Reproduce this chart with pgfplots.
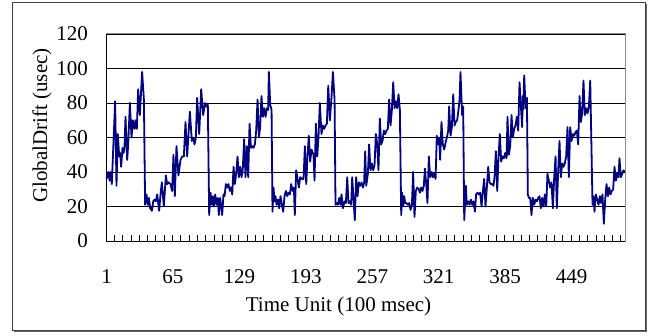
\documentclass[border=0pt]{standalone}
\usepackage{pgfplots}
\pgfplotsset{compat=1.18}
\usepackage{pgfplotstable}
\usepackage{fontspec}
\setmainfont{Liberation Serif}
\definecolor{navyline}{RGB}{0,0,128}
\pgfplotstableread{
x y
1 36
2.9 40
3.9 35
4.8 40
6.1 33
9.3 81
10.6 32
11.9 62
13.2 49
14.2 51
15.1 43
16.4 54
17.4 51
18.3 54
19.3 72
20.9 47
21.9 56
23.5 80
25.1 60
26.4 70
28.0 65
29.0 70
30.2 65
31.5 88
33.1 73
35.3 98
37.0 82
38.2 21
39.5 27
40.8 21
41.8 25
43.1 19
44.7 17.5
46.0 23
47.2 24
48.5 23
49.8 27
51.7 17.5
53.0 27
54.3 34
56.2 20
58.2 38
59.4 33
61.0 34
62.6 33
64.2 29
65.5 50
66.8 26
68.4 55
70.3 38
72.3 47
73.9 49
75.5 49
77.1 69
78.7 49
81.3 75
83.2 58
84.5 60
85.8 56
87.1 60
88.3 83
90.3 62
92.2 88
94.1 73
96.0 80
97.3 78
98.6 79
99.9 15
101.2 28
102.5 21
103.4 26
104.4 20
105.7 27
107.0 21
108.3 25
109.2 15
110.5 25
111.5 20
112.4 15
113.7 27
114.7 26
116.0 33
117.3 31
118.5 33
119.8 29
121.1 31
122.1 27
123.4 43
124.6 33
125.9 39
127.2 49
128.5 37
129.8 43
131.1 37
132.3 42
133.6 59
134.9 37
136.2 55
137.5 37
138.8 68
140.1 54
141.3 55
142.6 54
143.9 56
145.2 64
146.5 82
147.8 60
149.0 66
150.3 84
151.6 72
152.9 77
154.2 72
155.5 77
156.7 76
157.4 98
158.7 79
160.0 76
160.9 17
161.9 31
162.8 23
163.8 26
164.8 21
166.1 24
167.3 19
168.6 26
169.9 21
171.2 17
172.5 26
173.8 29
175.1 26
176.3 28
177.6 27
178.9 33
180.2 29
181.5 31
182.4 15
183.7 41
185.0 36
186.3 31
187.6 37
189.2 36
190.8 36
192.1 55
193.4 33
194.6 49
195.9 61
197.2 46
198.5 53
199.8 51
200.4 50
201.4 35
202.7 68
204.0 49
205.2 60
206.5 80
208.1 62
209.4 67
210.7 65
212.0 67
213.3 68
214.6 90
216.2 70
217.8 84
219.1 98
220.7 82
221.6 21
222.6 22
223.9 21
225.2 25
226.4 21
227.4 27
228.7 19
230.3 23
231.6 22
232.9 37
234.1 22
235.4 23
236.7 21
237.7 37
239.0 24
240.2 12
241.5 37
242.8 26
244.1 34
245.4 32
246.7 34
248.0 31
249.2 34
250.2 52
251.2 32
252.8 39
254.0 56
255.3 41
256.6 45
257.9 41
259.2 44
260.5 62
261.8 56
263.0 41
264.3 71
265.6 56
266.9 58
268.2 64
269.5 62
270.7 64
272.0 65
273.3 82
274.6 67
275.9 76
277.2 92
278.5 77
279.7 81
281.0 77
282.3 85
283.6 76
284.9 15
285.8 28
286.8 20
287.8 26
288.7 22
290.0 22
291.3 21
292.6 22
293.9 18
295.2 21
296.4 40
297.7 14
299.0 29
300.3 31
301.9 30
302.9 28
304.1 31
305.4 29
306.7 32
307.7 42
309.0 33
310.2 22
311.5 49
312.8 37
314.1 40
315.4 37
316.7 39
318.0 36
319.2 61
320.5 56
321.5 60
322.4 47
323.7 69
325.0 56
326.3 53
327.6 57
328.9 60
330.2 64
331.1 78
332.4 61
333.7 66
335.0 85
336.3 67
337.5 69
338.8 70
340.1 76
341.1 82
342.0 98
343.6 73
344.6 78
345.6 12
347.2 32
348.1 21
349.4 23
350.7 21
352.0 24
353.3 21
354.6 23
355.9 17
357.1 27
358.4 28
359.7 27
361.0 28
362.3 20
363.6 29
364.8 36
366.1 20
367.4 31
368.7 43
370.0 34
371.3 33
372.5 33
373.8 32
374.8 37
376.1 52
377.4 29
378.6 48
379.9 62
381.2 46
382.5 49
383.8 48
385.1 51
386.4 48
387.3 72
388.6 50
389.9 55
391.2 73
392.5 60
393.7 65
395.0 67
396.3 72
397.6 64
398.9 92
400.2 78
401.4 66
402.0 84
402.4 76
403.4 96
404.7 77
406.0 83
406.9 27
407.9 25
409.2 25
410.4 15
411.7 25
413.0 21
414.3 24
415.6 23
416.9 25
418.1 26
419.4 19
420.7 25
422.0 20
423.3 27
424.6 20
425.8 39
427.1 35
428.4 31
429.7 34
431.0 19
432.3 37
433.6 49
434.8 19
436.1 40
437.4 58
438.7 37
440.0 45
441.3 43
442.5 45
443.8 49
445.1 66
446.4 37
447.7 66
449.0 58
450.3 62
451.5 61
452.8 63
454.1 64
455.4 56
456.7 84
458.0 69
459.2 74
460.5 93
461.8 73
463.1 77
464.4 74
465.7 78
467.0 93
469.2 21
470.2 26
471.1 17
472.4 27
473.7 24
475.0 21
476.3 26
477.5 22
478.8 27
480.1 10
481.4 24
482.7 33
484.0 26
485.3 31
486.5 27
487.8 29
489.1 30
490.4 43
491.7 35
493.0 39
494.2 37
495.2 48
496.5 37
497.8 39
499.1 41
500.0 40
}\drift
\begin{document}
\begin{tikzpicture}
\useasboundingbox (0pt,0pt) rectangle (655pt,335pt);
% chart area frame with shadow
\draw[black!75, line width=1.2pt] (12.5pt,4.5pt) rectangle (645.5pt,332.5pt);
\draw[black!60, line width=1.2pt] (646.7pt,331pt) -- (646.7pt,3.3pt) -- (14pt,3.3pt);
\begin{axis}[
  at={(106pt,94pt)}, anchor=south west,
  scale only axis, width=519pt, height=207pt,
  xmin=0.5, xmax=500.5, ymin=0, ymax=120,
  ytick={0,20,...,120},
  xtick={0.5,8.5,...,496.5},
  xticklabels=\empty,
  extra x ticks={1,65,129,193,257,321,385,449},
  extra x tick labels={1,65,129,193,257,321,385,449},
  extra x tick style={major tick length=0pt, grid=none},
  xtick pos=bottom, ytick pos=left,
  tick align=inside,
  major tick length=6.5pt,
  tick style={black, line width=0.8pt},
  ymajorgrids,
  grid style={black, line width=0.8pt},
  axis line style={black!45, line width=1pt},
  /pgf/number format/assume math mode=true,
  tick label style={font=\fontsize{21}{25}\selectfont, inner sep=0pt},
  xticklabel style={anchor=base, yshift=-42.5pt},
  yticklabel style={anchor=east, xshift=-18pt},
  label style={font=\fontsize{21}{25}\selectfont},
  xlabel={Time Unit (100 msec)},
  xlabel style={at={(axis description cs:0.448,0)}, anchor=base, yshift=-70pt, inner sep=0pt},
  ylabel={GlobalDrift (usec)},
  ylabel style={at={(axis description cs:-0.1233,0.558)}, anchor=center, inner sep=0pt},
  clip=false,
]
\addplot[navyline, line width=1.8pt, line join=round, mark=none] table[x=x, y=y] {\drift};
\draw[black, line width=1pt] (rel axis cs:0,1) -- (rel axis cs:0,0) -- (rel axis cs:1,0);
\end{axis}
\end{tikzpicture}
\end{document}
